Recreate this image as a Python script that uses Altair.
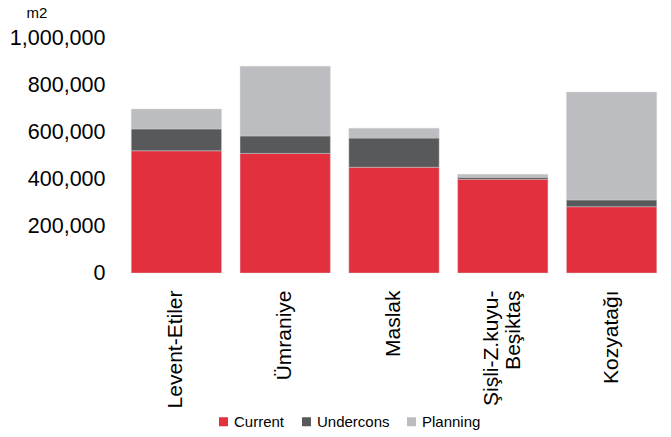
import altair as alt
import pandas as pd

districts = ["Levent-Etiler", "Ümraniye", "Maslak", "Şişli-Z.kuyu-|Beşiktaş", "Kozyatağı"]
current = [520000, 509000, 450000, 399000, 282000]
undercons = [93000, 74000, 124000, 8000, 29000]
planning = [85000, 297000, 42000, 13000, 459000]
series = ["Current", "Undercons", "Planning"]
colors = ["#E3303E", "#58595B", "#BCBDC0"]
y_ticks = [0, 200000, 400000, 600000, 800000, 1000000]

rows = []
for i, d in enumerate(districts):
    for k, (name, vals) in enumerate(zip(series, [current, undercons, planning])):
        rows.append({"district": d, "series": name, "value": vals[i], "idx": k})
df = pd.DataFrame(rows)

font = "Liberation Sans"

chart = alt.Chart(df).mark_bar(stroke="#d8d8d8", strokeWidth=0.4).encode(
    x=alt.X("district:N", sort=districts, title=None,
            scale=alt.Scale(paddingInner=0.17, paddingOuter=0.085),
            axis=alt.Axis(labelAngle=270, labelAlign="right", labelBaseline="middle",
                          labelFontSize=21, labelFont=font, labelColor="#000000",
                          labelPadding=17, ticks=False, tickSize=0, domain=False,
                          labelLineHeight=22,
                          labelOffset={"condition": {"test": "indexof(datum.value, '|') >= 0",
                                                     "value": -11},
                                       "value": 0},
                          labelExpr="split(datum.label, '|')")),
    y=alt.Y("value:Q", stack="zero", title="m2",
            scale=alt.Scale(domain=[0, 1000000], nice=False),
            axis=alt.Axis(values=y_ticks,
                          labelExpr="format(datum.value, ',')",
                          labelFontSize=21.5, labelFont=font,
                          labelColor="#000000", labelPadding=17, ticks=False,
                          tickSize=0, domain=False, grid=False,
                          titleAngle=0, titleAlign="left", titleBaseline="middle",
                          titleX=-96, titleY=-26, titleFontSize=15,
                          titleFontWeight="normal", titleFont=font, titleColor="#000000")),
    color=alt.Color("series:N", sort=series,
                    scale=alt.Scale(domain=series, range=colors),
                    legend=alt.Legend(title=None, orient="none", direction="horizontal",
                                      legendX=94, legendY=376, symbolType="square",
                                      symbolSize=81, symbolStrokeWidth=0,
                                      labelFontSize=15, labelFont=font,
                                      labelColor="#000000", labelOffset=3,
                                      columnPadding=14)),
    order=alt.Order("idx:Q", sort="ascending"),
).properties(
    width=544, height=235,
    autosize=alt.AutoSizeParams(type="none"),
    padding={"left": 122, "top": 38, "right": 5, "bottom": 164},
).configure_view(stroke=None)

chart.save("out.html", embed_options={"renderer": "svg", "actions": False})
